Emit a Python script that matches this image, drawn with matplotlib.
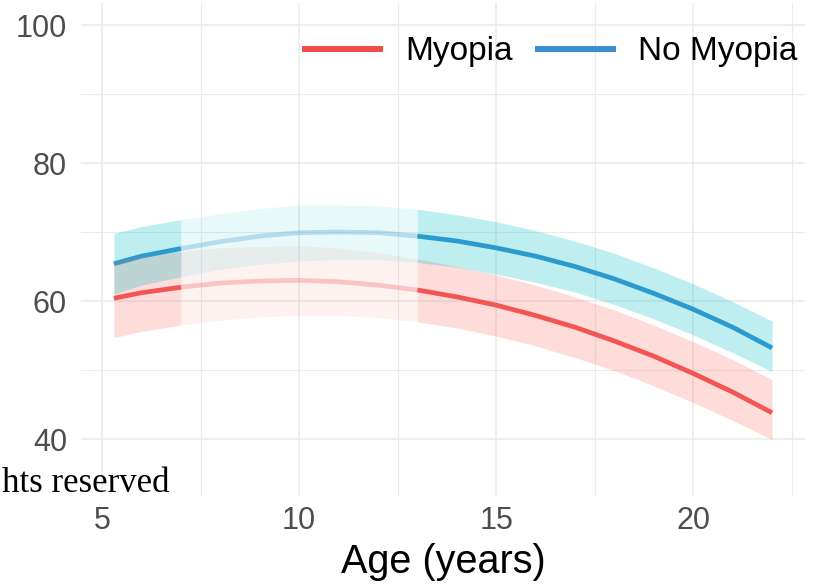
import matplotlib
matplotlib.use("Agg")
import matplotlib.pyplot as plt
from matplotlib.lines import Line2D

# ---- data ----
ages = [5.3, 6, 7, 8, 9, 10, 11, 12, 13, 14, 15, 16, 17, 18, 19, 20, 21, 22]

myopia_fit = [60.4, 61.2, 62.0, 62.6, 62.9, 63.0, 62.8, 62.3, 61.6, 60.6,
              59.4, 57.9, 56.2, 54.2, 52.0, 49.5, 46.8, 43.8]
myopia_upper = [65.7, 66.5, 67.2, 67.7, 67.9, 68.0, 67.7, 67.0, 66.1, 65.0,
                63.8, 62.3, 60.6, 58.7, 56.5, 54.1, 51.5, 48.6]
myopia_lower = [54.7, 55.6, 56.5, 57.2, 57.7, 57.9, 57.9, 57.6, 57.0, 56.1,
                54.9, 53.5, 51.8, 49.9, 47.7, 45.3, 42.7, 39.9]

nomyopia_fit = [65.4, 66.5, 67.6, 68.6, 69.4, 69.9, 70.0, 69.9, 69.4, 68.7,
                67.7, 66.5, 65.0, 63.2, 61.1, 58.8, 56.2, 53.2]
nomyopia_upper = [69.8, 70.8, 71.8, 72.7, 73.4, 73.9, 73.9, 73.8, 73.3, 72.5,
                  71.5, 70.2, 68.7, 66.9, 64.8, 62.5, 59.9, 57.1]
nomyopia_lower = [61.0, 62.3, 63.5, 64.6, 65.3, 65.8, 66.0, 66.0, 65.6, 64.9,
                  63.9, 62.7, 61.3, 59.5, 57.4, 55.1, 52.5, 49.8]

faded_start, faded_end = 7, 13
series_labels = ["Myopia", "No Myopia"]
x_ticks = [5, 10, 15, 20]
y_ticks = [40, 60, 80, 100]
x_label = "Age (years)"
footer_text = "hts reserved"

# ---- styles ----
line_cols = ["#F04B4B", "#3A8FD3"]
ribbon_cols = ["#F8766D", "#00BFC4"]
grid_col = "#EBEBEB"

W, H = 821, 585
fig = plt.figure(figsize=(W / 100, H / 100), dpi=100)
ax = fig.add_axes([81 / W, 1 - 496 / H, 724 / W, 493 / H])
ax.set_xlim(4.465, 22.835)
ax.set_ylim(31.74, 103.19)

n = len(ages)
left = [i for i in range(n) if ages[i] <= faded_start]
mid = [i for i in range(n) if faded_start <= ages[i] <= faded_end]
right = [i for i in range(n) if ages[i] >= faded_end]


def sub(arr, idx):
    return [arr[i] for i in idx]


groups = [(myopia_fit, myopia_lower, myopia_upper),
          (nomyopia_fit, nomyopia_lower, nomyopia_upper)]

# lines first
for k, (fit, lo, hi) in enumerate(groups):
    ax.plot(sub(ages, mid), sub(fit, mid), color=line_cols[k], lw=3.4,
            alpha=0.28, solid_capstyle="butt", solid_joinstyle="round",
            zorder=2)
    for idx in (left, right):
        ax.plot(sub(ages, idx), sub(fit, idx), color=line_cols[k], lw=3.4,
                solid_capstyle="butt", solid_joinstyle="round", zorder=2)

# ribbons on top
for k, (fit, lo, hi) in enumerate(groups):
    ax.fill_between(sub(ages, mid), sub(lo, mid), sub(hi, mid),
                    color=ribbon_cols[k], alpha=0.09, lw=0, zorder=3)
    for idx in (left, right):
        ax.fill_between(sub(ages, idx), sub(lo, idx), sub(hi, idx),
                        color=ribbon_cols[k], alpha=0.25, lw=0, zorder=3)

# grid
ax.set_xticks(x_ticks)
ax.set_xticks([7.5, 12.5, 17.5, 22.5], minor=True)
ax.set_yticks(y_ticks)
ax.set_yticks([50, 70, 90], minor=True)
ax.grid(which="major", color=grid_col, lw=1.2)
ax.grid(which="minor", color=grid_col, lw=0.8)
ax.set_axisbelow(True)
for s in ax.spines.values():
    s.set_visible(False)

ax.tick_params(which="both", length=0)
ax.tick_params(axis="y", pad=10, labelsize=22, labelcolor="#4D4D4D")
ax.tick_params(axis="x", pad=7, labelsize=22, labelcolor="#4D4D4D")
for lab in ax.get_xticklabels() + ax.get_yticklabels():
    lab.set_fontfamily("Liberation Sans")

ax.set_xlabel(x_label, fontsize=28.5, fontfamily="Liberation Sans",
              color="black", labelpad=5)

handles = [Line2D([0], [0], color=line_cols[k], lw=4.3) for k in range(2)]
leg = fig.legend(handles, series_labels, loc="center",
                 bbox_to_anchor=(551 / W, 1 - 51.7 / H), ncol=2, frameon=False,
                 prop={"family": "Liberation Sans", "size": 24},
                 handlelength=2.25, handletextpad=0.75, columnspacing=0.75,
                 borderpad=0, borderaxespad=0)

fig.text(169 / W, 1 - 492 / H, footer_text, ha="right", va="baseline",
         fontsize=25, fontfamily="Liberation Serif", color="black")

fig.savefig("out.png", dpi=100)
